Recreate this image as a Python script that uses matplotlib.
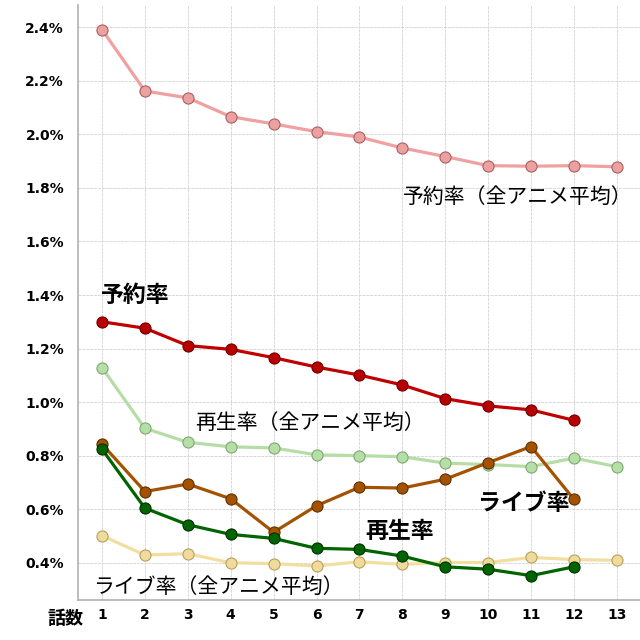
import matplotlib
matplotlib.use("Agg")
import matplotlib.pyplot as plt
from matplotlib.ticker import FuncFormatter, MultipleLocator

plt.rcParams['font.family'] = ['Noto Sans CJK JP', 'DejaVu Sans']

episodes = list(range(1, 14))
tick_labels = [str(e) for e in episodes]

reserve_avg = [2.391, 2.162, 2.136, 2.066, 2.039, 2.010, 1.990, 1.949, 1.917, 1.883, 1.881, 1.883, 1.879]
play_avg = [1.129, 0.902, 0.850, 0.833, 0.829, 0.803, 0.800, 0.796, 0.772, 0.767, 0.759, 0.791, 0.759]
live_avg = [0.501, 0.429, 0.434, 0.400, 0.397, 0.388, 0.404, 0.394, 0.401, 0.401, 0.420, 0.412, 0.409]
reserve = [1.300, 1.276, 1.211, 1.197, 1.166, 1.131, 1.101, 1.064, 1.013, 0.986, 0.971, 0.932]
live = [0.843, 0.666, 0.694, 0.639, 0.514, 0.613, 0.682, 0.679, 0.712, 0.774, 0.834, 0.637]
play = [0.824, 0.604, 0.542, 0.506, 0.491, 0.454, 0.450, 0.425, 0.385, 0.376, 0.352, 0.385]

fig = plt.figure(figsize=(6.4, 6.4), dpi=100)
ax = fig.add_axes([78/640, 40/640, 562/640, 595/640])

def draw(x, y, line, face, edge, z):
    ax.plot(x, y, color=line, lw=2.3, marker='o', ms=8, mfc=face, mec=edge, mew=0.8, zorder=z)

draw(episodes, live_avg, '#F2DFA0', '#EFDB9C', '#B8A060', 3)
draw(episodes, play_avg, '#B5DDA5', '#B5DFA6', '#80A870', 3)
draw(episodes, reserve_avg, '#F0A0A0', '#EDA0A0', '#A86060', 3)
draw(episodes[:12], live, '#A35200', '#A35200', '#603000', 4)
draw(episodes[:12], play, '#006400', '#006400', '#003000', 5)
draw(episodes[:12], reserve, '#C00000', '#B80000', '#700000', 5)

ax.set_xlim(0.44, 13.54)
ax.set_ylim(0.261, 2.483)
ax.set_xticks(episodes)
ax.set_xticklabels(tick_labels)
ax.yaxis.set_major_locator(MultipleLocator(0.2))
ax.yaxis.set_major_formatter(FuncFormatter(lambda v, p: f"{v:.1f}%"))
for lab in ax.get_xticklabels() + ax.get_yticklabels():
    lab.set_fontfamily('DejaVu Sans')
    lab.set_fontweight('bold')
    lab.set_fontsize(10)
ax.tick_params(axis='x', length=0, pad=6)
ax.tick_params(axis='y', length=0, pad=10)

ax.grid(True, color='#D8D8D8', lw=0.7, ls=(0, (3, 1)))
ax.set_axisbelow(True)
for s in ['top', 'right']:
    ax.spines[s].set_visible(False)
for s in ['left', 'bottom']:
    ax.spines[s].set_color('#B0B0B0')
    ax.spines[s].set_linewidth(1.2)

ax.text(8.02, 1.766, '予約率（全アニメ平均）', fontsize=15, color='black', va='center', ha='left')
ax.text(3.17, 0.922, '再生率（全アニメ平均）', fontsize=15, color='black', va='center', ha='left')
ax.text(0.79, 0.310, 'ライブ率（全アニメ平均）', fontsize=15, color='black', va='center', ha='left')
ax.text(0.98, 1.397, '予約率', fontsize=16.5, fontweight='bold', va='center', ha='left')
ax.text(9.76, 0.623, 'ライブ率', fontsize=16.5, fontweight='bold', va='center', ha='left')
ax.text(7.13, 0.515, '再生率', fontsize=16.5, fontweight='bold', va='center', ha='left')
fig.text(47/640, 1 - 618/640, '話数', fontsize=13, fontweight='bold', va='center', ha='left')

fig.savefig('out.png', dpi=100, facecolor='white')
